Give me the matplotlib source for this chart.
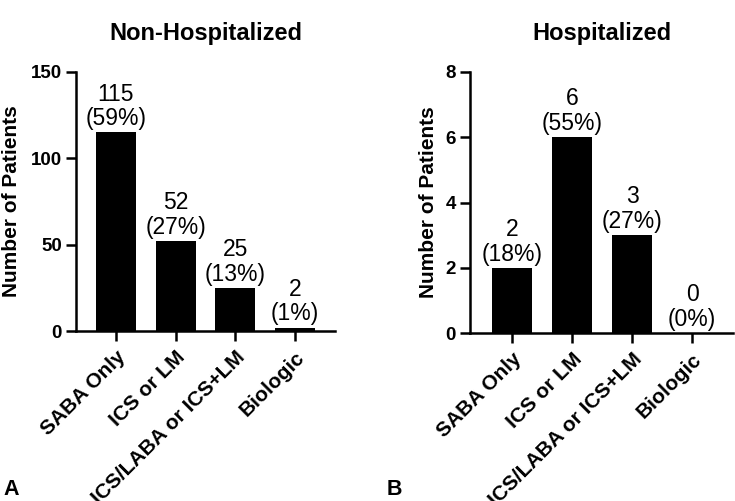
import matplotlib
matplotlib.use("Agg")
import matplotlib.pyplot as plt

plt.rcParams['font.family'] = ['Liberation Sans', 'DejaVu Sans']

categories = ["SABA Only", "ICS or LM", "ICS/LABA or ICS+LM", "Biologic"]
nonhosp_counts = [115, 52, 25, 2]
nonhosp_pct = ["59%", "27%", "13%", "1%"]
hosp_counts = [2, 6, 3, 0]
hosp_pct = ["18%", "55%", "27%", "0%"]

W, H = 735, 501
fig = plt.figure(figsize=(W / 100, H / 100), dpi=100)

def px_axes(x0, x1, ytop, ybot):
    return fig.add_axes([x0 / W, 1 - ybot / H, (x1 - x0) / W, (ybot - ytop) / H])

def draw(ax, counts, pcts, ymax, yticks, title, xlim):
    x = list(range(len(categories)))
    ax.bar(x, counts, width=0.667, color='black', edgecolor='black', linewidth=0)
    for xi, c, p in zip(x, counts, pcts):
        ax.annotate(f"{c}\n({p})", (xi, c), xytext=(0, 1.5), textcoords='offset points',
                    ha='center', va='bottom', fontsize=16.5, linespacing=1.1)
    ax.set_xlim(*xlim)
    ax.set_ylim(0, ymax)
    ax.set_yticks(yticks)
    ax.set_yticklabels([str(t) for t in yticks], fontsize=13.5, fontweight='bold')
    ax.set_xticks(x)
    ax.set_xticklabels(categories, rotation=45, ha='right', va='top',
                       rotation_mode='anchor', fontsize=15, fontweight='bold')
    for s in ['top', 'right']:
        ax.spines[s].set_visible(False)
    for s in ['left', 'bottom']:
        ax.spines[s].set_linewidth(1.8)
    ax.tick_params(axis='both', width=1.8, length=7, direction='out', pad=3)
    ax.tick_params(axis='x', pad=5)
    ax.set_ylabel("Number of Patients", fontsize=15, fontweight='bold')
    ax.set_title(title, fontsize=17, fontweight='bold', pad=23)

ax1 = px_axes(76, 335, 72, 331)
draw(ax1, nonhosp_counts, nonhosp_pct, 150, [0, 50, 100, 150], "Non-Hospitalized", (-0.67, 3.67))
ax1.yaxis.set_label_coords(-0.212, 0.5)

ax2 = px_axes(470, 733, 72, 333)
draw(ax2, hosp_counts, hosp_pct, 8, [0, 2, 4, 6, 8], "Hospitalized", (-0.7, 3.68))
ax2.yaxis.set_label_coords(-0.12, 0.5)

fig.text(3 / W, 1 - 495 / H, "A", fontsize=15.5, fontweight='bold', ha='left', va='baseline')
fig.text(387 / W, 1 - 495 / H, "B", fontsize=15.5, fontweight='bold', ha='left', va='baseline')

fig.savefig("out.png", dpi=100)
